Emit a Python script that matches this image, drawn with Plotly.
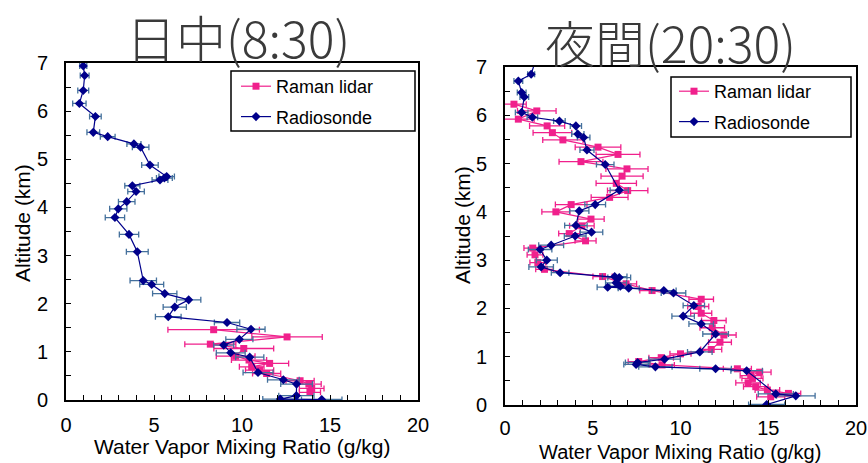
import plotly.graph_objects as go

# ---------------- Data ----------------
# Left panel: daytime (8:30)
day_sonde_alt = [6.94, 6.74, 6.43, 6.16, 5.89, 5.56, 5.47, 5.32, 5.25, 4.88, 4.64, 4.61, 4.57, 4.45, 4.33,
                 4.12, 3.97, 3.79, 3.44, 3.08, 2.48, 2.40, 2.21, 2.08, 1.93, 1.73, 1.61, 1.47, 1.26, 1.14,
                 0.98, 0.89, 0.57, 0.42, 0.33, 0.09, 0.02, 0.01]
day_sonde_val = [0.98, 1.06, 0.98, 0.76, 1.67, 1.55, 2.37, 3.86, 4.24, 4.77, 5.72, 5.59, 5.34, 3.77, 3.98,
                 3.45, 2.97, 2.78, 3.58, 4.05, 4.39, 4.87, 5.61, 6.97, 6.18, 5.81, 9.15, 10.51, 9.85, 8.96,
                 9.36, 10.44, 10.91, 12.35, 13.10, 13.09, 12.18, 14.53]
day_sonde_err = [0.20, 0.25, 0.31, 0.38, 0.33, 0.36, 0.42, 0.40, 0.47, 0.47, 0.44, 0.45, 0.45, 0.43, 0.47,
                 0.47, 0.49, 0.55, 0.55, 0.62, 0.75, 0.68, 0.69, 0.69, 0.66, 0.73, 0.72, 0.80, 0.77, 0.57,
                 0.82, 0.80, 0.85, 0.90, 0.90, 1.00, 1.00, 1.15]

day_lidar_alt = [1.46, 1.31, 1.16, 1.07, 0.91, 0.83, 0.76, 0.69, 0.62, 0.55, 0.40, 0.33, 0.24, 0.16]
day_lidar_val = [8.39, 12.56, 8.20, 10.10, 9.64, 10.40, 11.57, 10.55, 11.00, 11.40, 13.30, 13.80, 13.96, 13.86]
day_lidar_err = [2.60, 2.00, 1.45, 1.70, 1.10, 1.00, 1.08, 0.70, 0.80, 0.80, 0.80, 0.70, 0.70, 0.60]

# Right panel: night (20:30)
night_sonde_alt = [7.15, 6.85, 6.71, 6.47, 6.38, 6.06, 5.96, 5.88, 5.78, 5.61, 5.54, 5.28, 4.98, 4.45, 4.15,
                   4.02, 3.72, 3.58, 3.50, 3.31, 3.22, 3.00, 2.86, 2.74, 2.66, 2.64, 2.53, 2.46, 2.44, 2.42,
                   2.37, 2.32, 2.06, 1.84, 1.68, 1.47, 1.10, 0.95, 0.88, 0.84, 0.79, 0.75, 0.71, 0.23, 0.19,
                   0.01]
night_sonde_val = [1.75, 1.49, 0.76, 0.95, 1.10, 0.95, 1.56, 3.10, 4.04, 4.15, 4.48, 4.67, 5.71, 6.51, 5.14,
                   4.23, 4.04, 4.93, 4.00, 2.63, 2.00, 2.38, 2.06, 3.14, 6.25, 6.51, 6.33, 6.57, 5.85, 7.05,
                   9.05, 9.60, 10.76, 10.15, 11.18, 12.00, 11.10, 9.09, 7.56, 7.47, 8.57, 12.00, 13.77, 15.43, 16.57,
                   14.91]
night_sonde_err = [0.25, 0.20, 0.25, 0.25, 0.25, 0.36, 0.30, 0.33, 0.32, 0.35, 0.36, 0.40, 0.50, 0.52, 0.59,
                   0.55, 0.64, 0.64, 0.62, 0.71, 0.67, 0.60, 0.70, 0.50, 0.70, 0.65, 0.60, 0.60, 0.60, 0.60,
                   0.70, 0.70, 0.61, 0.64, 0.70, 0.73, 0.70, 0.90, 0.70, 0.70, 0.95, 0.90, 0.90, 1.00, 1.10,
                   1.03]

night_lidar_alt = [6.23, 6.09, 5.92, 5.78, 5.64, 5.49, 5.34, 5.19, 5.04, 4.89, 4.74, 4.59, 4.44, 4.30, 4.15,
                   4.00, 3.85, 3.71, 3.55, 3.40, 3.25, 3.11, 2.95, 2.81, 2.66, 2.51, 2.37, 2.19, 2.04, 1.90,
                   1.75, 1.60, 1.45, 1.30, 1.15, 1.06, 0.98, 0.90, 0.83, 0.75, 0.68, 0.61, 0.55, 0.46, 0.38,
                   0.31, 0.24, 0.17]
night_lidar_val = [0.51, 1.81, 0.76, 2.40, 2.70, 3.30, 5.30, 6.44, 4.33, 6.95, 6.67, 6.34, 6.99, 5.96, 3.77,
                   2.90, 4.90, 4.38, 3.66, 4.59, 1.58, 1.71, 1.87, 2.25, 5.56, 6.90, 8.38, 11.18, 11.01, 11.18,
                   11.90, 11.81, 12.47, 12.25, 11.75, 10.00, 8.90, 7.62, 8.95, 13.24, 14.51, 14.00, 14.10, 13.85, 14.29,
                   14.95, 16.15, 15.14]
night_lidar_err = [0.70, 1.10, 0.90, 1.00, 1.10, 1.15, 1.30, 1.25, 1.25, 1.20, 1.20, 1.15, 1.15, 1.05, 0.90,
                   0.80, 0.75, 0.70, 0.60, 0.60, 0.50, 0.45, 0.45, 0.50, 0.55, 0.60, 0.70, 0.70, 0.60, 0.60,
                   0.70, 0.70, 0.70, 0.65, 0.60, 0.60, 0.70, 0.60, 0.70, 0.80, 0.65, 0.60, 0.60, 0.70, 0.70,
                   0.70, 0.70, 0.80]

titles = ["日中(8:30)", "夜間(20:30)"]
x_title = "Water Vapor Mixing Ratio (g/kg)"
y_title = "Altitude (km)"
names = ["Raman lidar", "Radiosonde"]

# ---------------- Styles ----------------
PINK = "#f0208c"
NAVY = "#00008b"
SONDE_ERR = "#44709c"
W, H = 868, 463
TICKFONT = dict(family="Liberation Sans, Arial, sans-serif", size=20, color="black")

fig = go.Figure()

def add_panel(xa, ya, legend, l_alt, l_val, l_err, s_alt, s_val, s_err):
    fig.add_trace(go.Scatter(
        x=l_val, y=l_alt, mode="lines+markers", name=names[0], xaxis=xa, yaxis=ya, legend=legend,
        legendgroup=legend + "a",
        line=dict(color=PINK, width=1.2),
        marker=dict(symbol="square", size=7, color=PINK),
        error_x=dict(type="data", array=l_err, color=PINK, thickness=1.3, width=3)))
    fig.add_trace(go.Scatter(
        x=s_val, y=s_alt, mode="lines+markers", name=names[1], xaxis=xa, yaxis=ya, legend=legend,
        legendgroup=legend + "b",
        line=dict(color=NAVY, width=1.2),
        marker=dict(symbol="diamond", size=7, color=NAVY),
        error_x=dict(type="data", array=s_err, color=SONDE_ERR, thickness=1.3, width=3)))

add_panel("x", "y", "legend", day_lidar_alt, day_lidar_val, day_lidar_err,
          day_sonde_alt, day_sonde_val, day_sonde_err)
add_panel("x2", "y2", "legend2", night_lidar_alt, night_lidar_val, night_lidar_err,
          night_sonde_alt, night_sonde_val, night_sonde_err)

def xaxis(domain, anchor, standoff):
    return dict(domain=domain, anchor=anchor, range=[0, 20], dtick=5, tick0=0,
                ticks="inside", ticklen=5, tickwidth=1.3, tickcolor="black",
                minor=dict(dtick=1, ticks="inside", ticklen=5, tickwidth=1.3, tickcolor="black"),
                showline=True, linecolor="black", linewidth=2, mirror=True, automargin=False,
                showgrid=False, zeroline=False, tickfont=TICKFONT, ticklabelstandoff=standoff)

def yaxis(domain, anchor):
    return dict(domain=domain, anchor=anchor, range=[0, 7], dtick=1, tick0=0,
                ticks="inside", ticklen=5, tickwidth=1.3, tickcolor="black",
                minor=dict(dtick=0.5, ticks="inside", ticklen=5, tickwidth=1.3, tickcolor="black"),
                showline=True, linecolor="black", linewidth=2, mirror=True, automargin=False,
                showgrid=False, zeroline=False, tickfont=TICKFONT, ticklabelstandoff=12)

L = (66, 418, 63, 400)
R = (505, 856, 67, 405)

LEGFONT = dict(family="Liberation Sans, Arial, sans-serif", size=18, color="black")
fig.update_layout(
    width=W, height=H, margin=dict(l=0, r=0, t=0, b=0, autoexpand=False),
    paper_bgcolor="white", plot_bgcolor="white",
    xaxis=xaxis([L[0] / W, L[1] / W], "y", 6),
    yaxis=yaxis([1 - L[3] / H, 1 - L[2] / H], "x"),
    xaxis2=xaxis([R[0] / W, R[1] / W], "y2", 4),
    yaxis2=yaxis([1 - R[3] / H, 1 - R[2] / H], "x2"),
    legend=dict(x=236 / W, y=1 - 68 / H, xanchor="left", yanchor="top",
                borderwidth=0, bgcolor="rgba(0,0,0,0)", font=LEGFONT,
                itemwidth=30, tracegroupgap=4),
    legend2=dict(x=674 / W, y=1 - 73 / H, xanchor="left", yanchor="top",
                 borderwidth=0, bgcolor="rgba(0,0,0,0)", font=LEGFONT,
                 itemwidth=30, tracegroupgap=4),
    showlegend=True,
)

# legend frames
fig.add_shape(type="rect", xref="paper", yref="paper", x0=231 / W, x1=415 / W,
              y0=1 - 131 / H, y1=1 - 71 / H, line=dict(color="black", width=1.5),
              fillcolor="white", layer="below")
fig.add_shape(type="rect", xref="paper", yref="paper", x0=671 / W, x1=851 / W,
              y0=1 - 137 / H, y1=1 - 77 / H, line=dict(color="black", width=1.5),
              fillcolor="white", layer="below")

ann_font = dict(family="Liberation Sans, Arial, sans-serif", size=21, color="black")
ann_font_r = dict(family="Liberation Sans, Arial, sans-serif", size=20, color="black")
title_font = dict(family="Noto Sans CJK JP, sans-serif", size=50, color="#3a3a3a", weight=300)
annotations = [
    dict(text=titles[0], x=238 / W, y=1 - 36 / H, xref="paper", yref="paper",
         showarrow=False, font=title_font, xanchor="center", yanchor="middle"),
    dict(text=titles[1], x=670 / W, y=1 - 41 / H, xref="paper", yref="paper",
         showarrow=False, font=title_font, xanchor="center", yanchor="middle"),
    dict(text=x_title, x=242 / W, y=1 - 446 / H, xref="paper", yref="paper",
         showarrow=False, font=ann_font, xanchor="center", yanchor="middle"),
    dict(text=x_title, x=680 / W, y=1 - 452 / H, xref="paper", yref="paper",
         showarrow=False, font=ann_font_r, xanchor="center", yanchor="middle"),
    dict(text=y_title, x=22 / W, y=1 - 223 / H, xref="paper", yref="paper", textangle=-90,
         showarrow=False, font=ann_font, xanchor="center", yanchor="middle"),
    dict(text=y_title, x=462 / W, y=1 - 225 / H, xref="paper", yref="paper", textangle=-90,
         showarrow=False, font=ann_font, xanchor="center", yanchor="middle"),
]
fig.update_layout(annotations=annotations)

fig.write_html("out.html")
